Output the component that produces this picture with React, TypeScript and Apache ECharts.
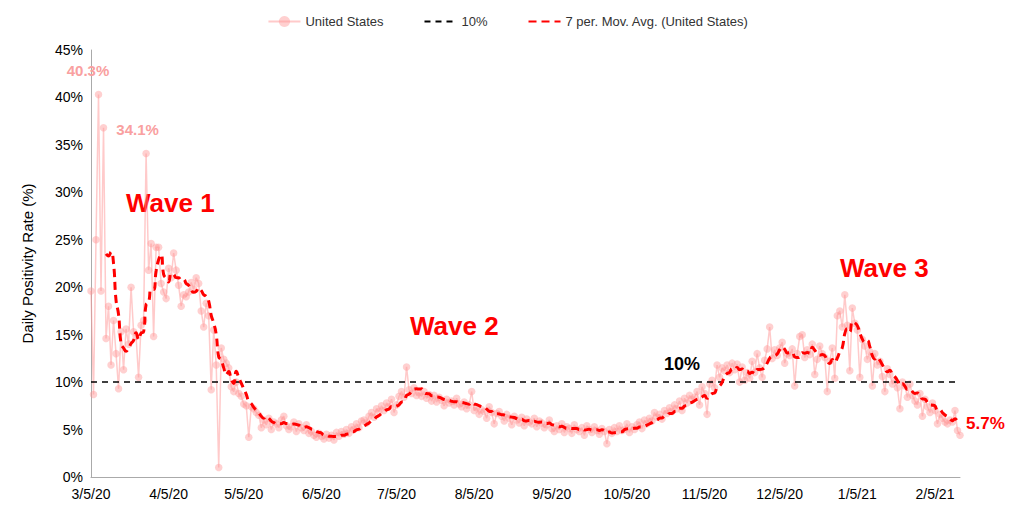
import React, { useEffect, useRef } from 'react';
import * as echarts from 'echarts';

// daily positivity rate (%) by month, starting 3/5/20
const mar = [19.6, 8.7, 25, 40.3, 19.6, 36.8, 14.6, 18, 11.8, 16.5, 13, 9.3, 15.3, 11.3, 15.6, 14, 20, 15.3, 14.8, 10.5, 16, 16.5, 34.1, 21.8, 24.6, 14.8, 24.2];
const apr = [24.2, 20.4, 19.5, 18.8, 22, 21, 23.6, 21.8, 20.2, 18, 19.2, 19, 19.5, 20.5, 19.8, 21, 20.4, 17.5, 15.8, 18.3, 17, 9.2, 15.5, 11.8, 1.0, 13.6, 12.4, 12, 11.5, 9.5];
const may = [9, 10, 8.8, 8.5, 7.7, 7.5, 4.2, 7.4, 7.2, 6.8, 6.5, 5.2, 6.0, 5.5, 6.2, 5.0, 5.8, 5.6, 5.2, 6.0, 6.4, 5.4, 5.0, 5.3, 5.8, 4.8, 5.6, 5.2, 4.9, 5.5, 4.6];
const jun = [4.8, 4.4, 4.2, 4.6, 4.3, 4.0, 4.5, 4.1, 4.4, 3.9, 4.7, 4.3, 4.8, 4.5, 5.0, 4.6, 5.3, 5.0, 5.6, 5.2, 5.9, 6.0, 5.7, 6.4, 6.8, 6.3, 7.2, 6.9, 7.5, 7.0];
const jul = [7.8, 7.4, 8.2, 6.8, 7.6, 8.5, 9.0, 8.4, 11.6, 9.2, 8.8, 9.4, 8.6, 8.9, 8.5, 9.0, 8.3, 8.7, 8.0, 8.6, 7.9, 8.4, 8.1, 7.5, 8.2, 7.8, 8.0, 7.6, 8.3, 7.7, 7.4];
const aug = [7.9, 7.2, 7.6, 9.0, 7.0, 7.3, 6.6, 7.1, 6.9, 6.2, 7.4, 6.8, 5.6, 6.7, 6.9, 6.4, 5.9, 6.6, 6.2, 5.5, 6.4, 6.0, 5.7, 6.3, 5.4, 6.1, 5.8, 5.6, 6.2, 5.3, 5.9];
const sep = [5.7, 5.2, 5.5, 6.0, 5.1, 4.8, 5.4, 5.0, 5.6, 4.7, 5.3, 5.1, 4.6, 5.5, 5.0, 4.8, 5.2, 4.4, 5.4, 5.0, 4.7, 5.3, 4.9, 4.5, 5.1, 4.8, 3.5, 5.0, 4.6, 5.2];
const oct = [4.8, 5.4, 4.9, 5.0, 5.6, 4.7, 5.3, 5.0, 5.5, 5.8, 5.1, 6.0, 5.6, 6.2, 5.9, 6.8, 6.3, 6.6, 6.1, 7.0, 6.7, 7.3, 6.9, 7.6, 7.2, 8.0, 7.0, 8.3, 7.8, 8.6, 8.2];
const nov = [8.4, 9.0, 7.6, 9.5, 8.8, 6.6, 9.8, 10.2, 9.4, 11.8, 10.5, 11.5, 11.2, 11.8, 11.0, 12.0, 11.3, 11.9, 10.0, 11.6, 10.2, 11.0, 10.4, 12.2, 11.0, 13.0, 11.5, 10.5, 12.3, 13.5];
const dec = [15.8, 12.5, 13.4, 12.8, 13.6, 14.2, 12.0, 13.0, 12.8, 13.5, 9.6, 13.0, 14.8, 15.0, 12.6, 13.4, 12.9, 14.0, 10.8, 12.4, 13.8, 13.0, 12.6, 9.0, 12.2, 13.6, 10.4, 17.0, 17.5, 15.8, 19.2];
const jan = [16.0, 11.2, 17.8, 16.2, 15.5, 10.5, 14.5, 13.8, 12.4, 13.2, 9.6, 13.0, 11.8, 12.2, 10.6, 9.0, 11.4, 10.8, 9.8, 10.2, 9.4, 7.2, 10.0, 9.6, 8.4, 9.8, 8.6, 8.0, 7.6, 8.8, 6.4];
const feb = [8.2, 7.4, 6.8, 7.8, 7.0, 5.6, 6.6, 6.2, 5.8, 5.6, 6.0, 5.8, 7.0, 4.9, 4.4];

const months = [
  { m: 3, y: 20, start: 5, vals: mar }, { m: 4, y: 20, start: 1, vals: apr },
  { m: 5, y: 20, start: 1, vals: may }, { m: 6, y: 20, start: 1, vals: jun },
  { m: 7, y: 20, start: 1, vals: jul }, { m: 8, y: 20, start: 1, vals: aug },
  { m: 9, y: 20, start: 1, vals: sep }, { m: 10, y: 20, start: 1, vals: oct },
  { m: 11, y: 20, start: 1, vals: nov }, { m: 12, y: 20, start: 1, vals: dec },
  { m: 1, y: 21, start: 1, vals: jan }, { m: 2, y: 21, start: 1, vals: feb },
];

const threshold = 10;
const endLabelText = '5.7%';

const dates: string[] = [];
const daily: number[] = [];
months.forEach(({ m, y, start, vals }) => {
  vals.forEach((v, i) => {
    dates.push(`${m}/${start + i}/${y}`);
    daily.push(v);
  });
});

// 7 period trailing moving average
const movAvg = daily.map((_, i) => {
  if (i < 6) return null;
  let s = 0;
  for (let k = i - 6; k <= i; k++) s += daily[k];
  return +(s / 7).toFixed(2);
});

const FONT = 'Liberation Sans, Arial, sans-serif';

export default function App() {
  const ref = useRef<HTMLDivElement>(null);

  useEffect(() => {
    if (!ref.current) return;
    const chart = echarts.init(ref.current, null, { renderer: 'svg' });

    const dailyData = daily.map((v, i) => {
      if (v === 40.3 || v === 34.1) {
        return {
          value: v,
          label: {
            show: true, position: i < 5 ? [-28, -28] : [-26, -28], formatter: `${v}%`,
            color: '#f9a0a0', fontWeight: 'bold', fontSize: 15, fontFamily: FONT,
          },
        };
      }
      return v;
    });

    chart.setOption({
      animation: false,
      textStyle: { fontFamily: FONT },
      legend: {
        top: 2, left: 'center', itemGap: 40, itemWidth: 32,
        textStyle: { fontSize: 13, color: '#333' },
        data: [
          'United States',
          { name: '10%', itemStyle: { opacity: 0 } },
          { name: '7 per. Mov. Avg. (United States)', itemStyle: { opacity: 0 } },
        ],
      },
      grid: { left: 83, right: 48, top: 42, bottom: 28 },
      xAxis: {
        type: 'category', data: dates, boundaryGap: false,
        axisLine: { lineStyle: { color: '#aaa' } },
        axisTick: { show: false },
        axisLabel: {
          interval: (_: number, val: string) => val.split('/')[1] === '5',
          color: '#000', fontSize: 14, margin: 10,
        },
      },
      yAxis: {
        type: 'value', min: 0, max: 45, interval: 5,
        name: 'Daily Positivity Rate (%)', nameLocation: 'middle', nameGap: 56,
        nameTextStyle: { fontSize: 15, color: '#000' },
        axisLine: { show: true, lineStyle: { color: '#aaa' } },
        splitLine: { show: false },
        axisLabel: { formatter: '{value}%', color: '#000', fontSize: 14 },
      },
      series: [
        {
          name: 'United States', type: 'line', data: dailyData,
          symbol: 'circle', symbolSize: 7.5, showSymbol: true, showAllSymbol: true,
          lineStyle: { color: 'rgba(255,150,150,0.5)', width: 1.5 },
          itemStyle: { color: 'rgba(255,150,150,0.45)' },
          z: 2,
        },
        {
          name: '10%', type: 'line', data: dates.map(() => threshold),
          symbol: 'none', lineStyle: { color: '#000', type: [6, 5], width: 1.5 },
          itemStyle: { color: '#000' }, z: 3,
        },
        {
          name: '7 per. Mov. Avg. (United States)', type: 'line', data: movAvg,
          symbol: 'none', smooth: true,
          lineStyle: { color: '#ff0000', type: [8, 5], width: 3 },
          itemStyle: { color: '#ff0000' }, z: 4,
          endLabel: {
            show: true, formatter: endLabelText, color: '#ff0000',
            fontWeight: 'bold', fontSize: 17, distance: 6,
          },
        },
      ],
      graphic: [
        { type: 'text', left: 118, top: 182, style: { text: 'Wave 1', fill: '#ff0000', font: `bold 26px ${FONT}` } },
        { type: 'text', left: 402, top: 305, style: { text: 'Wave 2', fill: '#ff0000', font: `bold 26px ${FONT}` } },
        { type: 'text', left: 832, top: 247, style: { text: 'Wave 3', fill: '#ff0000', font: `bold 26px ${FONT}` } },
        { type: 'text', left: 656, top: 347, style: { text: '10%', fill: '#000', font: `bold 18px ${FONT}` } },
      ],
    });

    return () => chart.dispose();
  }, []);

  return <div ref={ref} style={{ width: 1000, height: 497 }} />;
}
